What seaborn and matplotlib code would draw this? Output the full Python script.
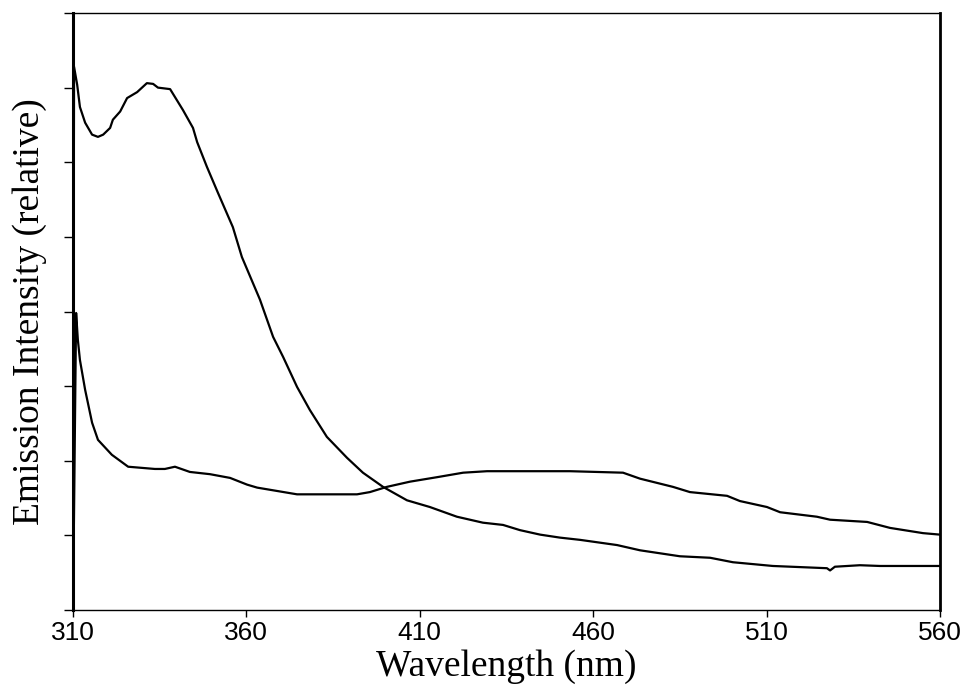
import numpy as np
import pandas as pd
import matplotlib
matplotlib.use("Agg")
import matplotlib.pyplot as plt
import seaborn as sns

# curve with the UV band near 332 nm
wl_a = [310.0, 310.3, 311.2, 312.0, 313.5, 315.5, 317.2, 318.7, 320.7, 321.5,
        323.6, 325.6, 328.5, 331.3, 333.1, 334.5, 338.0, 341.7, 344.6, 345.8,
        348.6, 351.8, 356.1, 358.7, 363.9, 367.7, 370.6, 374.6, 378.3, 383.2,
        389.0, 393.6, 399.4, 406.3, 412.9, 420.7, 428.2, 434.0, 438.9, 444.7,
        450.4, 456.2, 466.9, 473.5, 485.0, 493.7, 500.3, 511.8, 527.4, 528.3,
        529.7, 536.9, 542.7, 560.0]
int_a = [0.00, 7.28, 7.04, 6.74, 6.53, 6.37, 6.34, 6.37, 6.46, 6.57,
         6.68, 6.86, 6.94, 7.06, 7.05, 7.00, 6.98, 6.70, 6.46, 6.27,
         5.94, 5.59, 5.13, 4.73, 4.16, 3.66, 3.39, 2.99, 2.68, 2.32,
         2.04, 1.84, 1.65, 1.47, 1.38, 1.25, 1.17, 1.14, 1.07, 1.01,
         0.97, 0.94, 0.87, 0.80, 0.72, 0.70, 0.64, 0.59, 0.56, 0.53,
         0.58, 0.60, 0.59, 0.59]

# curve with the broad band near 450 nm
wl_b = [310.0, 310.9, 311.4, 312.0, 313.5, 315.5, 317.2, 321.2, 325.9, 333.6,
        336.5, 339.4, 343.7, 349.5, 355.3, 360.2, 363.1, 374.6, 384.1, 391.9,
        395.6, 400.5, 407.2, 415.0, 422.5, 429.4, 441.8, 453.3, 468.6, 473.5,
        483.0, 487.9, 498.6, 502.3, 510.1, 513.9, 524.5, 528.3, 539.0, 545.6,
        555.1, 560.0]
int_b = [0.00, 3.98, 3.62, 3.35, 2.95, 2.51, 2.28, 2.08, 1.92, 1.89,
         1.89, 1.92, 1.85, 1.82, 1.77, 1.68, 1.64, 1.55, 1.55, 1.55,
         1.58, 1.65, 1.72, 1.78, 1.84, 1.86, 1.86, 1.86, 1.84, 1.76,
         1.65, 1.58, 1.53, 1.46, 1.38, 1.31, 1.25, 1.21, 1.18, 1.10,
         1.03, 1.01]

x_ticks = [310, 360, 410, 460, 510, 560]

sns.set_style("white")
plt.rcParams["font.family"] = ["Liberation Sans", "DejaVu Sans"]
plt.rcParams["text.color"] = "black"
plt.rcParams["axes.labelcolor"] = "black"
plt.rcParams["xtick.color"] = "black"
plt.rcParams["ytick.color"] = "black"

df = pd.concat([
    pd.DataFrame({"wavelength": wl_a, "intensity": int_a, "curve": "a"}),
    pd.DataFrame({"wavelength": wl_b, "intensity": int_b, "curve": "b"}),
], ignore_index=True)

fig = plt.figure(figsize=(9.65, 6.87), dpi=100)
ax = fig.add_axes([73 / 965, 1 - 610 / 687, (940 - 73) / 965, (610 - 13) / 687])

sns.lineplot(data=df, x="wavelength", y="intensity", hue="curve",
             palette=["black", "black"], estimator=None, sort=False,
             linewidth=1.6, legend=False, ax=ax)

ax.set_xlim(310, 560)
ax.set_ylim(0, 8)
ax.set_xticks(x_ticks)
ax.set_xticklabels([str(t) for t in x_ticks])
ax.set_yticks(range(0, 9))
ax.set_yticklabels([])

ax.tick_params(axis="x", direction="out", length=5, width=1,
               labelsize=19, pad=3, bottom=True)
ax.tick_params(axis="y", direction="out", length=6.5, width=1, left=True)

for side in ["top", "bottom"]:
    ax.spines[side].set_linewidth(1.0)
    ax.spines[side].set_color("black")
ax.spines["left"].set_linewidth(2.2)
ax.spines["right"].set_linewidth(2.0)
ax.spines["left"].set_color("black")
ax.spines["right"].set_color("black")

ax.set_xlabel("Wavelength (nm)", family=["Liberation Serif", "DejaVu Serif"],
              fontsize=27, labelpad=3)
ax.set_ylabel("Emission Intensity (relative)", family=["Liberation Serif", "DejaVu Serif"],
              fontsize=27, labelpad=9)

fig.savefig("out.png", dpi=100, facecolor="white")
